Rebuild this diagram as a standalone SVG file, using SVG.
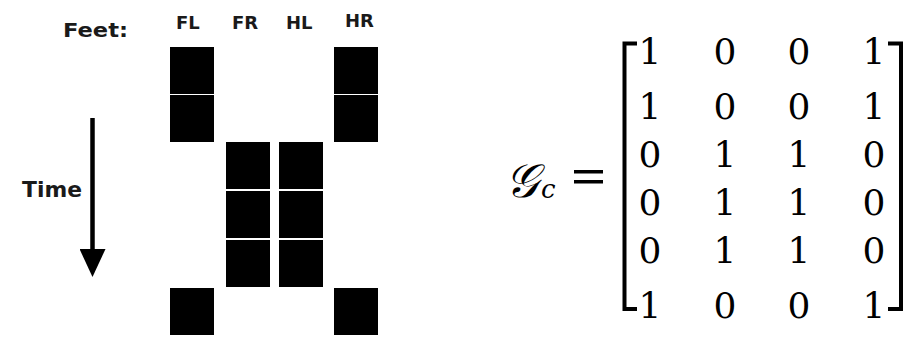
<svg xmlns="http://www.w3.org/2000/svg" width="913" height="337" viewBox="0 0 913 337">
<style>
.lbl{font-family:"DejaVu Sans",Verdana,sans-serif;font-weight:bold;fill:#1a1a1a}
.blk{fill:#000}
.num{font-family:"DejaVu Serif","Liberation Serif",serif;font-size:36px;fill:#000;text-anchor:middle}
.br{fill:none;stroke:#000;stroke-width:4}
</style>
<defs>
<marker id="ah" markerWidth="28" markerHeight="26" refX="6" refY="13" orient="auto" markerUnits="userSpaceOnUse" viewBox="0 0 28 26">
<path d="M0,0 L28,13 L0,26 Z" fill="#000"/>
</marker>
</defs>
<rect width="913" height="337" fill="#fff"/>
<g id="labels">
<text class="lbl" x="63" y="37" font-size="20" textLength="65" lengthAdjust="spacingAndGlyphs">Feet:</text>
<text class="lbl" x="176" y="29" font-size="18">FL</text>
<text class="lbl" x="232" y="29" font-size="18">FR</text>
<text class="lbl" x="286" y="29" font-size="18">HL</text>
<text class="lbl" x="345" y="27" font-size="18">HR</text>
<text class="lbl" x="22" y="197" font-size="21" textLength="60" lengthAdjust="spacingAndGlyphs">Time</text>
</g>
<g id="connectors">
<line x1="92.5" y1="118" x2="92.5" y2="255" stroke="#000" stroke-width="4.5" marker-end="url(#ah)"/>
</g>
<g id="foot-FL">
<rect class="blk" x="170" y="47" width="44" height="47"/>
<rect class="blk" x="170" y="95" width="44" height="47"/>
<rect class="blk" x="170" y="288" width="44" height="47"/>
</g>
<g id="foot-FR">
<rect class="blk" x="226" y="142" width="44" height="47"/>
<rect class="blk" x="226" y="191" width="44" height="47"/>
<rect class="blk" x="226" y="240" width="44" height="47"/>
</g>
<g id="foot-HL">
<rect class="blk" x="279" y="142" width="44" height="47"/>
<rect class="blk" x="279" y="191" width="44" height="47"/>
<rect class="blk" x="279" y="240" width="44" height="47"/>
</g>
<g id="foot-HR">
<rect class="blk" x="334" y="47" width="44" height="47"/>
<rect class="blk" x="334" y="95" width="44" height="47"/>
<rect class="blk" x="334" y="288" width="44" height="47"/>
</g>
<g id="matrix">
<text x="505" y="197" font-family="DejaVu Serif,Liberation Serif,serif" font-style="italic" font-size="47">𝒢</text>
<text x="541" y="198" font-family="DejaVu Serif,Liberation Serif,serif" font-style="italic" font-size="26">c</text>
<rect x="574" y="170" width="29" height="3.5" fill="#000"/>
<rect x="574" y="180" width="29" height="3.5" fill="#000"/>
<path class="br" d="M637,43.5 H624.5 V309 H637"/>
<path class="br" d="M888,43.5 H901 V309 H888"/>
<g class="num">
<text x="650" y="64">1</text><text x="725" y="64">0</text><text x="799" y="64">0</text><text x="874" y="64">1</text>
<text x="650" y="119">1</text><text x="725" y="119">0</text><text x="799" y="119">0</text><text x="874" y="119">1</text>
<text x="650" y="167">0</text><text x="725" y="167">1</text><text x="799" y="167">1</text><text x="874" y="167">0</text>
<text x="650" y="215">0</text><text x="725" y="215">1</text><text x="799" y="215">1</text><text x="874" y="215">0</text>
<text x="650" y="263">0</text><text x="725" y="263">1</text><text x="799" y="263">1</text><text x="874" y="263">0</text>
<text x="650" y="318">1</text><text x="725" y="318">0</text><text x="799" y="318">0</text><text x="874" y="318">1</text>
</g>
</g>
</svg>
